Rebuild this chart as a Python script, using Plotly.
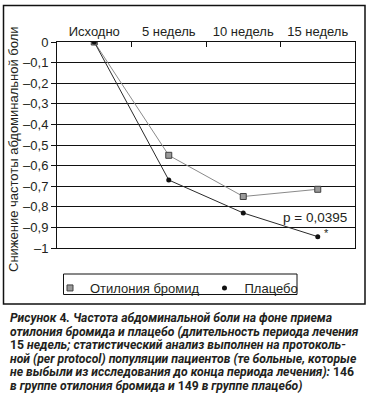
import plotly.graph_objects as go

categories = ["Исходно", "5 недель", "10 недель", "15 недель"]
bromide = [0, -0.55, -0.75, -0.715]
placebo = [0, -0.67, -0.83, -0.945]
y_ticks = [0, -0.1, -0.2, -0.3, -0.4, -0.5, -0.6, -0.7, -0.8, -0.9, -1]
y_ticktext = ["0", "–0,1", "–0,2", "–0,3", "–0,4", "–0,5", "–0,6", "–0,7", "–0,8", "–0,9", "–1"]
series_names = ["Отилония бромид", "Плацебо"]
y_title = "Снижение частоты абдоминальной боли"
p_label = "p = 0,0395"
caption_lines = [
    "<b><i>Рисунок </i>4<i>. Частота абдоминальной боли на фоне приема</i></b>",
    "<b><i>отилония бромида и плацебо (длительность периода лечения</i></b>",
    "<b>15<i> недель; статистический анализ выполнен на протоколь-</i></b>",
    "<b><i>ной (per protocol) популяции пациентов (те больные, которые</i></b>",
    "<b><i>не выбыли из исследования до конца периода лечения): </i>146</b>",
    "<b><i>в группе отилония бромида и </i>149<i> в группе плацебо)</i></b>",
]

W, H = 371, 409
L, R, T, B = 57, 355, 42, 248  # plot area in px

def px_x(px):
    return (px - L) / (R - L)

def px_y(py):
    return (B - py) / (B - T)

FONT = "Liberation Sans, Arial, sans-serif"
TXT = "#231f20"

fig = go.Figure()
fig.add_trace(go.Scatter(x=categories, y=bromide, mode="lines",
                         line=dict(color="#8a8a8a", width=1), showlegend=False, hoverinfo="skip"))
fig.add_trace(go.Scatter(x=categories, y=placebo, mode="lines",
                         line=dict(color="#2a2a2a", width=1), showlegend=False, hoverinfo="skip"))
fig.add_trace(go.Scatter(x=categories, y=bromide, mode="markers", name=series_names[0],
                         marker=dict(symbol="square", size=6, color="#9a9a9a",
                                     line=dict(color="#404040", width=1))))
fig.add_trace(go.Scatter(x=categories, y=placebo, mode="markers", name=series_names[1],
                         marker=dict(symbol="circle", size=5, color="#111111",
                                     line=dict(color="#111111", width=0))))

fig.update_layout(
    width=W, height=H,
    margin=dict(l=L, r=W - R, t=T, b=H - B, pad=0, autoexpand=False),
    paper_bgcolor="white", plot_bgcolor="white",
    font=dict(family=FONT, size=13, color=TXT),
    xaxis=dict(type="category", side="top", range=[-0.5, 3.5], automargin=False,
               showline=True, linecolor="#111", linewidth=1, mirror=True,
               ticks="inside", tickson="boundaries", ticklen=5, tickcolor="#111",
               showgrid=False, zeroline=False,
               tickfont=dict(size=13, color=TXT, family=FONT)),
    yaxis=dict(range=[-1, 0], tickvals=y_ticks, ticktext=y_ticktext, automargin=False,
               showline=True, linecolor="#111", linewidth=1, mirror=True,
               ticks="outside", ticklen=5, tickcolor="#111",
               showgrid=True, gridcolor="#111", gridwidth=1, zeroline=False,
               tickfont=dict(size=13, color=TXT, family=FONT)),
    legend=dict(orientation="h", x=px_x(50), xanchor="left", y=px_y(273), yanchor="top",
                borderwidth=0, bgcolor="rgba(0,0,0,0)",
                font=dict(size=13, color=TXT, family=FONT),
                itemwidth=30, tracegroupgap=0),
    showlegend=True,
)

# outer frame
fig.add_shape(type="rect", xref="paper", yref="paper",
              x0=px_x(3.5), x1=px_x(365), y0=px_y(304), y1=px_y(5.5),
              line=dict(color="#111", width=1.5), fillcolor="rgba(0,0,0,0)", layer="below")
# legend frame
fig.add_shape(type="rect", xref="paper", yref="paper",
              x0=px_x(63.5), x1=px_x(297), y0=px_y(294.5), y1=px_y(274),
              line=dict(color="#111", width=1), fillcolor="rgba(0,0,0,0)", layer="below")

# y axis title
fig.add_annotation(text=y_title, xref="paper", yref="paper", x=px_x(13), y=px_y(149),
                   xanchor="center", yanchor="middle",
                   textangle=-90, showarrow=False, font=dict(size=13, color=TXT, family=FONT))

# p-value and asterisk
fig.add_annotation(text=p_label, x=categories[3], y=-0.85, showarrow=False, xshift=-3,
                   font=dict(size=13.5, color=TXT, family=FONT))
fig.add_annotation(text="*", x=categories[3], y=placebo[3], showarrow=False, xshift=9, yshift=4,
                   font=dict(size=11, color=TXT, family=FONT))

# caption
for i, line in enumerate(caption_lines):
    fig.add_annotation(text=line, xref="paper", yref="paper", x=px_x(8), y=px_y(318 + 13.6 * i),
                       xanchor="left", yanchor="middle", showarrow=False, align="left",
                       font=dict(size=12.2, color=TXT, family="Roboto, sans-serif"))

fig.write_html("out.html", config={"displayModeBar": False},
               post_script="document.body.style.margin='0px';")
